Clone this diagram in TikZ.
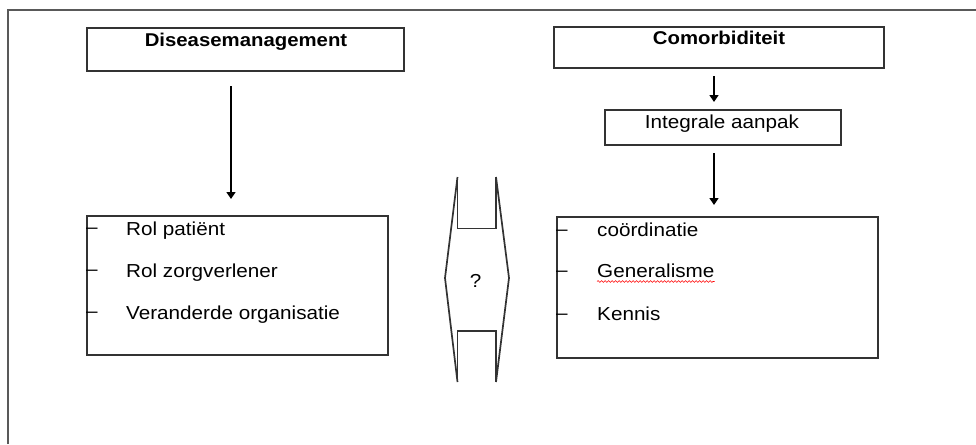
\documentclass[tikz,border=0pt]{standalone}
\usepackage{fontspec}
\setmainfont[FakeStretch=1.1]{Liberation Sans}
\usetikzlibrary{arrows.meta,decorations.pathmorphing}
\tikzset{
  boxx/.style={draw=black!80, line width=1.8pt, minimum width=#1, inner sep=0pt},
  txt/.style={font=\fontsize{18.8}{22}\selectfont, inner sep=0pt, text=black},
  btxt/.style={font=\fontsize{18.5}{22}\selectfont\bfseries, inner sep=0pt, text=black},
  arr/.style={line width=1.5pt, -{Triangle[width=9pt,length=7pt]}},
  frame/.style={draw=black!65, line width=1.8pt},
  shapeline/.style={draw=black!80, line width=1.7pt, line join=miter}
}
\begin{document}
\begin{tikzpicture}[x=1pt,y=-1pt]
\useasboundingbox (0,0) rectangle (976,444);
% outer frame
\draw[frame] (8,444) -- (8,10) -- (976,10);

% top boxes
\node[boxx=317pt, minimum height=43pt] (dm) at (245.5,49.5) {};
\node[btxt, anchor=base] (dmt) at (246,46) {Diseasemanagement};
\node[boxx=330pt, minimum height=41pt] (cm) at (719,47.5) {};
\node[btxt, anchor=base] (cmt) at (719,45) {Comorbiditeit};
\node[boxx=236pt, minimum height=35pt] (ia) at (723,127.5) {};
\node[txt, anchor=base] (iat) at (722,128.5) {Integrale aanpak};

% list boxes
\node[boxx=301pt, minimum height=139pt] (lb) at (237.5,285.5) {};
\node[boxx=321pt, minimum height=141pt] (rb) at (717.5,287.5) {};

% left list
\node[txt, anchor=base west] (ld1) at (86,233.5) {–};
\node[txt, anchor=base west] (l1) at (126,235) {Rol patiënt};
\node[txt, anchor=base west] (ld2) at (86,275.5) {–};
\node[txt, anchor=base west] (l2) at (126,277) {Rol zorgverlener};
\node[txt, anchor=base west] (ld3) at (86,317.5) {–};
\node[txt, anchor=base west] (l3) at (126,319) {Veranderde organisatie};

% right list
\node[txt, anchor=base west] (rd1) at (556,235.5) {–};
\node[txt, anchor=base west] (r1) at (597,236) {coördinatie};
\node[txt, anchor=base west] (rd2) at (556,276.5) {–};
\node[txt, anchor=base west] (r2) at (597,277) {Generalisme};
\node[txt, anchor=base west] (rd3) at (556,319.5) {–};
\node[txt, anchor=base west] (r3) at (597,320.5) {Kennis};
\draw[red, line width=0.6pt, decorate, decoration={snake, amplitude=0.9pt, segment length=3.5pt}]
  (r2.base west) ++(0,4.5) coordinate (u1) -- (u1 -| r2.base east);

% arrows
\coordinate (a1s) at (231,86);
\coordinate (a1e) at (231,199);
\draw[arr] (a1s) -- (a1e);
\coordinate (a2s) at (714,76);
\coordinate (a2e) at (714,102);
\draw[arr] (a2s) -- (a2e);
\coordinate (a3s) at (714,153);
\coordinate (a3e) at (714,205);
\draw[arr] (a3s) -- (a3e);

% middle shape
\draw[shapeline] (457.5,177) -- (445,278) -- (457.5,382);
\draw[shapeline] (496,177) -- (509,278) -- (496,382);
\draw[shapeline] (457.5,177) -- (457.5,228.5) -- (496,228.5) -- (496,177);
\draw[shapeline] (457.5,382) -- (457.5,331) -- (496,331) -- (496,382);
\node[txt, anchor=base] (q) at (475.5,287) {?};
\end{tikzpicture}
\end{document}
